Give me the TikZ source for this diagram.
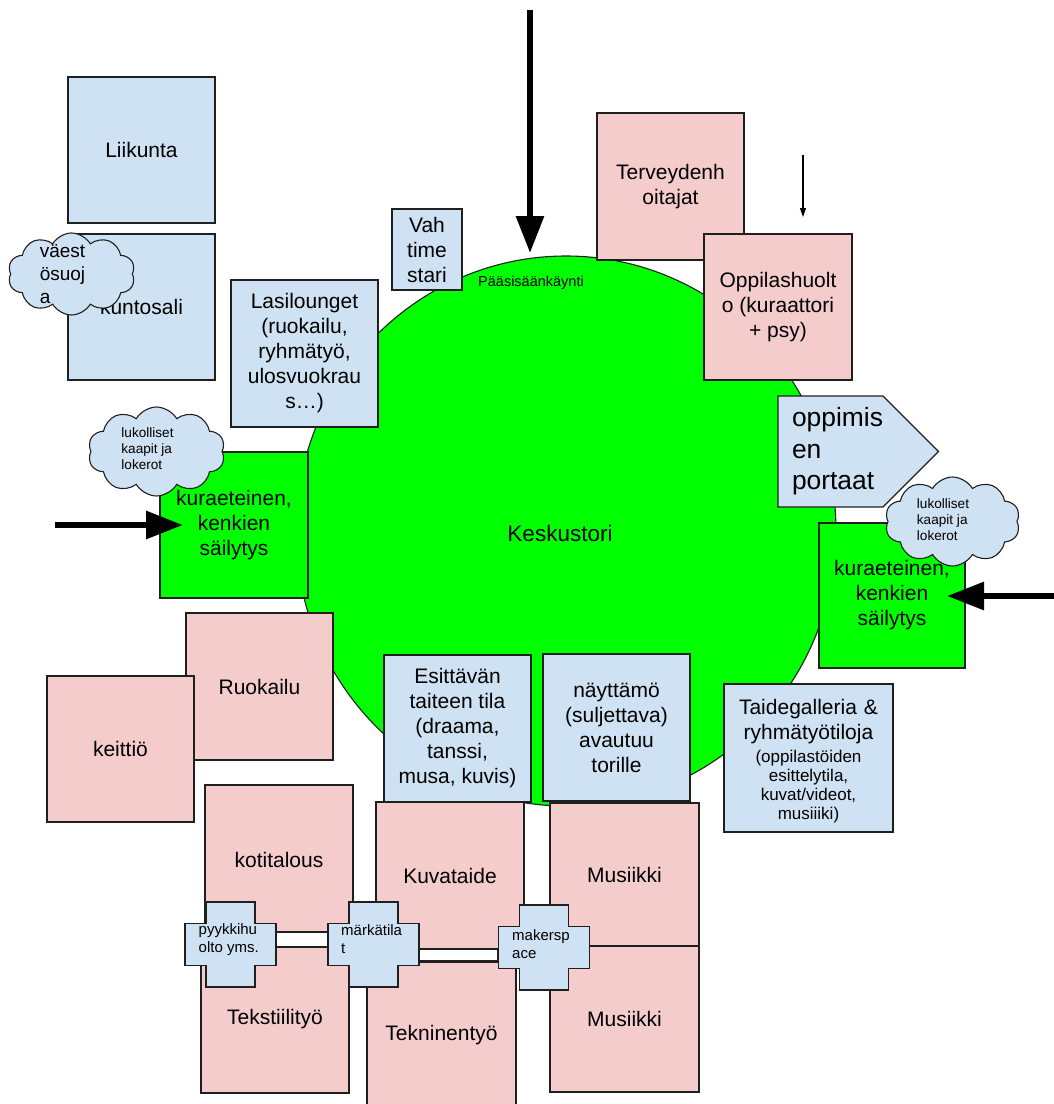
\documentclass[tikz,border=0pt]{standalone}
\usepackage{fontspec}
\setmainfont{Liberation Sans}
\usetikzlibrary{shapes.geometric,shapes.symbols,arrows.meta}
\definecolor{bluef}{HTML}{CFE2F3}
\definecolor{pinkf}{HTML}{F4CCCC}
\definecolor{greenf}{HTML}{00FF00}
\definecolor{edgec}{HTML}{1F1F1F}
\begin{document}
\begin{tikzpicture}[x=1pt,y=-1pt,
  room/.style={draw=edgec, line width=1.1pt, rectangle, inner sep=0pt, align=center,
    font=\fontsize{21}{25}\selectfont},
  bluebox/.style={room, fill=bluef},
  pinkbox/.style={room, fill=pinkf},
  greenbox/.style={room, fill=greenf},
  sz/.style 2 args={minimum width=#1pt, minimum height=#2pt},
  corridor/.style={draw=edgec, line width=1.1pt, fill=white, rectangle, inner sep=0pt},
  crosstext/.style={inner sep=0pt, align=left, anchor=west, font=\fontsize{15}{18}\selectfont},
  cloudshape/.style={cloud, cloud puffs=10, cloud puff arc=120, draw=edgec, line width=1.1pt,
    fill=bluef, inner sep=0pt},
  cloudtext/.style={inner sep=0pt, align=left, font=\fontsize{13.6}{16}\selectfont},
  bigarrow/.style={line width=6pt, -{Triangle[length=37pt,width=27pt]}},
  smallarrow/.style={line width=1.3pt, -{Triangle[length=9pt,width=6pt]}},
  plusroom/.pic={\path[draw=edgec,line width=1.1pt,fill=bluef]
    (-24.5,-42.5) -- (24.5,-42.5) -- (24.5,-21) -- (45.5,-21) -- (45.5,21) -- (24.5,21)
    -- (24.5,42.5) -- (-24.5,42.5) -- (-24.5,21) -- (-45.5,21) -- (-45.5,-21) -- (-24.5,-21) -- cycle;}
]
\useasboundingbox (0,0) rectangle (1054,1104);

% central square
\node[ellipse, draw=edgec, line width=1.1pt, fill=greenf, minimum width=540pt, minimum height=550pt, inner sep=0pt] (tori) at (566,531) {};
\node[font=\fontsize{22.5}{27}\selectfont] (kesk) at (560,533) {Keskustori};
\node[font=\fontsize{14.5}{17}\selectfont] (paasy) at (531,283) {Pääsisäänkäynti};

% rooms
\node[bluebox, sz={147}{146}] (liik) at (141.5,150) {Liikunta};
\node[bluebox, sz={147}{146}] (kunto) at (141.5,307) {kuntosali};
\node[bluebox, sz={70}{81}] (vah) at (427,249.5) {Vah\\time\\stari};
\node[bluebox, sz={147}{147}] (lasi) at (304.5,353.5) {Lasilounget\\(ruokailu,\\ryhmätyö,\\ulosvuokrau\\s…)};
\node[pinkbox, sz={147}{147}] (terv) at (670.5,186.5) {Terveydenh\\oitajat};
\node[pinkbox, sz={148}{146}] (oppi) at (778,307) {Oppilashuolt\\o (kuraattori\\+ psy)};
\node[signal, signal to=east, signal pointer angle=90, draw=edgec, line width=1.1pt, fill=bluef,
  minimum height=111pt, inner xsep=14pt, inner ysep=0pt, text width=77pt, align=left,
  font=\fontsize{26.4}{31.5}\selectfont] (port) at (830.5,451.5) {oppimis\\en\\portaat};
\node[greenbox, sz={148}{146}] (kuraL) at (234,525) {kuraeteinen,\\kenkien\\säilytys};
\node[greenbox, sz={146}{145}] (kuraR) at (892,595.5) {kuraeteinen,\\kenkien\\säilytys};
\node[pinkbox, sz={147}{147}] (ruok) at (259.5,686.5) {Ruokailu};
\node[pinkbox, sz={147}{146}] (keit) at (120.5,749) {keittiö};
\node[bluebox, sz={147}{147}] (esit) at (457.5,728.5) {Esittävän\\taiteen tila\\(draama,\\tanssi,\\musa, kuvis)};
\node[bluebox, sz={147}{147}] (nayt) at (616.5,727.5) {näyttämö\\(suljettava)\\avautuu\\torille};
\node[bluebox, minimum height=148pt, text width=169pt] (taide) at (808.5,758)
  {\par\vspace*{-4pt}Taidegalleria \&\\ryhmätyötiloja\par\vspace{4pt}\fontsize{17}{19}\selectfont (oppilastöiden\\esittelytila,\\kuvat/videot,\\musiiiki)\par};
\node[pinkbox, sz={148}{150}] (koti) at (279,860) {kotitalous};
\node[pinkbox, sz={148}{148}] (teks) at (275,1019) {Tekstiilityö};
\node[pinkbox, sz={148}{147}] (kuva) at (450,875.5) {Kuvataide};
\node[pinkbox, sz={149}{146}] (tekn) at (441.5,1035) {Tekninentyö};
\node[pinkbox, sz={149}{143}] (musA) at (624.5,874.5) {Musiikki};
\node[pinkbox, sz={149}{146}] (musB) at (624.5,1019) {Musiikki};

% corridors and cross rooms
\node[corridor, minimum width=52pt, minimum height=15pt] (kor1) at (302,939.5) {};
\node[corridor, minimum width=80pt, minimum height=12pt] (kor2) at (458,955) {};
\pic at (230.5,944.5) {plusroom};
\pic at (373.5,944.5) {plusroom};
\pic at (544,947.5) {plusroom};
\node[crosstext] (pyy) at (198.5,940) {pyykkihu\\olto yms.};
\node[crosstext] (mark) at (341,939) {märkätila\\t};
\node[crosstext] (maker) at (512,944) {makersp\\ace};

% clouds
\node[cloudshape, aspect=1.55, minimum width=127pt, minimum height=82pt] (cloudV) at (71.5,274) {};
\node[cloudtext, font=\fontsize{19}{23}\selectfont] (cloudVt) at (62.5,273.6) {väest\\ösuoj\\a};
\node[cloudshape, aspect=1.54, minimum width=137pt, minimum height=89pt] (cloudL) at (156.5,451.5) {};
\node[cloudtext] (cloudLt) at (147.5,449) {lukolliset\\kaapit ja\\lokerot};
\node[cloudshape, aspect=1.52, minimum width=135pt, minimum height=89pt] (cloudR) at (952.5,521.5) {};
\node[cloudtext] (cloudRt) at (943,520) {lukolliset\\kaapit ja\\lokerot};

% arrows
\coordinate (topA) at (530,10);
\coordinate (topB) at (530,253);
\draw[bigarrow] (topA) -- (topB);
\coordinate (leftA) at (55,525);
\coordinate (leftB) at (183,525);
\draw[bigarrow] (leftA) -- (leftB);
\coordinate (rightA) at (1058,596);
\coordinate (rightB) at (947,596);
\draw[bigarrow] (rightA) -- (rightB);
\coordinate (smallA) at (803,155);
\coordinate (smallB) at (803,217);
\draw[smallarrow] (smallA) -- (smallB);
\end{tikzpicture}
\end{document}
